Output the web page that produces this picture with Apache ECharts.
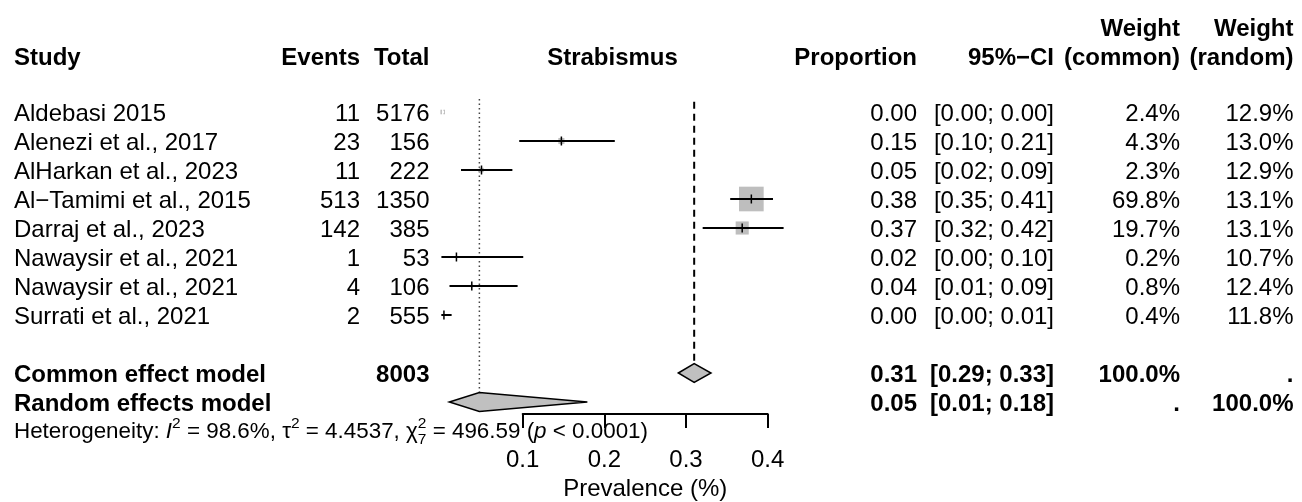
<!DOCTYPE html>
<html>
<head>
<meta charset="utf-8">
<script src="https://cdn.jsdelivr.net/npm/echarts@6/dist/echarts.min.js"></script>
<style>
html, body { margin: 0; background: #fff; }
#chart { width: 1302px; height: 502px; }
</style>
</head>
<body>
<div id="chart"></div>
<script>
// study data
const studies = ['Aldebasi 2015', 'Alenezi et al., 2017', 'AlHarkan et al., 2023', 'Al\u2212Tamimi et al., 2015',
  'Darraj et al., 2023', 'Nawaysir et al., 2021', 'Nawaysir et al., 2021', 'Surrati et al., 2021']
const events = [11, 23, 11, 513, 142, 1, 4, 2]
const totals = [5176, 156, 222, 1350, 385, 53, 106, 555]
const proportion = [0.0021, 0.1474, 0.0496, 0.3800, 0.3688, 0.0189, 0.0377, 0.0036]
const ciLower = [0.0011, 0.0958, 0.0245, 0.3541, 0.3204, 0.0005, 0.0104, 0.0004]
const ciUpper = [0.0038, 0.2128, 0.0874, 0.4065, 0.4195, 0.1007, 0.0938, 0.0130]
const weightCommon = [2.4, 4.3, 2.3, 69.8, 19.7, 0.2, 0.8, 0.4]
const weightRandom = [12.9, 13.0, 12.9, 13.1, 13.1, 10.7, 12.4, 11.8]

// pooled estimates
const commonModel = [0.310, 0.2906, 0.3306]
const randomModel = [0.047, 0.0102, 0.1792]

// heterogeneity
const hetI2 = '98.6%'
const hetTau2 = '4.4537'
const hetChi2 = '496.59'
const hetDf = '7'
const hetP = '< 0.0001'

// axis ticks
const tickMin = 0.1
const tickMax = 0.4
const tickStep = 0.1

const FONT = '"Liberation Sans", Arial, Helvetica, sans-serif'
const rowCommon = studies.length + 1
const rowRandom = studies.length + 2

// columns: right edge of each column (study is left edge)
const col = { study: 14, events: 360, total: 429.5, prop: 917, ci: 1054, wc: 1180, wr: 1293.5 }
const TXT_DY = 2

const fmt2 = v => v.toFixed(2)
const fmtCI = (lo, hi) => '[' + fmt2(lo) + '; ' + fmt2(hi) + ']'

// table rows built from the arrays
const tableRows = studies.map((name, i) => ({
  r: i, bold: false,
  cells: [name, String(events[i]), String(totals[i]), fmt2(proportion[i]), fmtCI(ciLower[i], ciUpper[i]),
    weightCommon[i].toFixed(1) + '%', weightRandom[i].toFixed(1) + '%']
}))
tableRows.push({
  r: rowCommon, bold: true,
  cells: ['Common effect model', '', String(totals.reduce((a, b) => a + b, 0)), fmt2(commonModel[0]),
    fmtCI(commonModel[1], commonModel[2]), '100.0%', '.']
})
tableRows.push({
  r: rowRandom, bold: true,
  cells: ['Random effects model', '', '', fmt2(randomModel[0]), fmtCI(randomModel[1], randomModel[2]), '.', '100.0%']
})

const colX = [col.study, col.events, col.total, col.prop, col.ci, col.wc, col.wr]

const textEl = (x, y, text, opts = {}) => ({
  type: 'text',
  x, y: y + TXT_DY,
  style: {
    text,
    fill: '#000',
    fontSize: opts.size || 24,
    fontFamily: FONT,
    fontWeight: opts.bold ? 'bold' : 'normal',
    fontStyle: opts.italic ? 'italic' : 'normal',
    align: opts.align || 'right',
    verticalAlign: 'middle'
  }
})

// heterogeneity line, pieces laid out with canvas text metrics
const measureCtx = document.createElement('canvas').getContext('2d')
const hetPieces = [
  { t: 'Heterogeneity: ', k: 'n' }, { t: 'I', k: 'it' }, { t: '2', k: 'sup' },
  { t: ' = ' + hetI2 + ', \u03c4', k: 'n' }, { t: '2', k: 'sup' },
  { t: ' = ' + hetTau2 + ', \u03c7', k: 'n' }, { t: '2', k: 'sup', sub: hetDf },
  { t: ' = ' + hetChi2 + ' (', k: 'n' }, { t: 'p', k: 'it' }, { t: ' ' + hetP + ')', k: 'n' }
]
const hetStyle = {
  n: { size: 22.4, italic: false, dy: 0 },
  it: { size: 22.4, italic: true, dy: 0 },
  sup: { size: 15.5, italic: false, dy: -8 }
}
const hetY = 430
const hetElements = []
let hx = 14
hetPieces.forEach(p => {
  const s = hetStyle[p.k]
  measureCtx.font = (s.italic ? 'italic ' : '') + s.size + 'px ' + FONT
  hetElements.push(textEl(hx, hetY + s.dy, p.t, { size: s.size, italic: s.italic, align: 'left' }))
  if (p.sub) hetElements.push(textEl(hx, hetY + 8, p.sub, { size: 15.5, align: 'left' }))
  hx += measureCtx.measureText(p.t).width
})

const chart = echarts.init(document.getElementById('chart'), null, { renderer: 'canvas' })

chart.setOption({
  animation: false,
  backgroundColor: '#fff',
  grid: [
    { left: 441, top: 25, width: 408.35, height: 464 },
    { left: 522.7, top: 300, width: 245, height: 116.7 }
  ],
  xAxis: [
    { gridIndex: 0, type: 'value', min: 0, max: 0.5, show: false },
    {
      gridIndex: 1, type: 'value', min: tickMin, max: tickMax, interval: tickStep,
      position: 'bottom',
      axisLine: { show: true, onZero: false, lineStyle: { color: '#000', width: 2 } },
      axisTick: { show: true, inside: false, length: 14, lineStyle: { color: '#000', width: 2 } },
      axisLabel: { color: '#000', fontSize: 24, fontFamily: FONT, margin: 34, formatter: v => v.toFixed(1) },
      splitLine: { show: false },
      name: 'Prevalence (%)', nameLocation: 'middle', nameGap: 63,
      nameTextStyle: { color: '#000', fontSize: 24, fontFamily: FONT }
    }
  ],
  yAxis: [
    { gridIndex: 0, type: 'value', min: -3, max: 13, inverse: true, show: false },
    { gridIndex: 1, type: 'value', min: 0, max: 1, show: false }
  ],
  graphic: [
    textEl(col.wc, 27, 'Weight', { bold: true }),
    textEl(col.wr, 27, 'Weight', { bold: true }),
    textEl(col.study, 56.7, 'Study', { bold: true, align: 'left' }),
    textEl(col.events, 56.7, 'Events', { bold: true }),
    textEl(col.total, 56.7, 'Total', { bold: true }),
    textEl(612.5, 56.7, 'Strabismus', { bold: true, align: 'center' }),
    textEl(col.prop, 56.7, 'Proportion', { bold: true }),
    textEl(col.ci, 56.7, '95%\u2212CI', { bold: true }),
    textEl(col.wc, 56.7, '(common)', { bold: true }),
    textEl(col.wr, 56.7, '(random)', { bold: true })
  ].concat(hetElements),
  series: [
    // reference lines at pooled estimates
    {
      type: 'custom',
      xAxisIndex: 0, yAxisIndex: 0,
      data: [
        [commonModel[0], -0.35, rowCommon, 0],
        [randomModel[0], -0.45, rowRandom, 1]
      ],
      renderItem: (params, api) => {
        const top = api.coord([api.value(0), api.value(1)])
        const bot = api.coord([api.value(0), api.value(2)])
        const dotted = api.value(3) === 1
        return {
          type: 'line',
          shape: { x1: top[0], y1: top[1], x2: bot[0], y2: bot[1] - 9.5 },
          style: { stroke: dotted ? '#444' : '#000', lineWidth: dotted ? 1.5 : 2, lineDash: dotted ? [1.5, 3] : [7, 5] }
        }
      }
    },
    // study squares and confidence intervals
    {
      type: 'custom',
      xAxisIndex: 0, yAxisIndex: 0,
      data: studies.map((s, i) => [i, proportion[i], ciLower[i], ciUpper[i], weightCommon[i]]),
      renderItem: (params, api) => {
        const row = api.value(0)
        const c = api.coord([api.value(1), row])
        const lo = api.coord([api.value(2), row])
        const hi = api.coord([api.value(3), row])
        const side = 2.95 * Math.sqrt(api.value(4))
        const inside = lo[0] >= c[0] - side / 2 && hi[0] <= c[0] + side / 2
        const ink = inside ? '#fff' : '#000'
        return {
          type: 'group',
          children: [
            { type: 'rect', shape: { x: c[0] - side / 2, y: c[1] - side / 2, width: side, height: side }, style: { fill: '#bebebe' } },
            { type: 'line', shape: { x1: lo[0], y1: c[1], x2: hi[0], y2: c[1] }, style: { stroke: ink, lineWidth: 2 } },
            { type: 'line', shape: { x1: c[0], y1: c[1] - 4.5, x2: c[0], y2: c[1] + 4.5 }, style: { stroke: ink, lineWidth: 1.5 } }
          ]
        }
      }
    },
    // pooled diamonds
    {
      type: 'custom',
      xAxisIndex: 0, yAxisIndex: 0,
      data: [
        [rowCommon, commonModel[0], commonModel[1], commonModel[2]],
        [rowRandom, randomModel[0], randomModel[1], randomModel[2]]
      ],
      renderItem: (params, api) => {
        const row = api.value(0)
        const c = api.coord([api.value(1), row])
        const lo = api.coord([api.value(2), row])
        const hi = api.coord([api.value(3), row])
        return {
          type: 'polygon',
          shape: { points: [[lo[0], c[1]], [c[0], c[1] - 9.5], [hi[0], c[1]], [c[0], c[1] + 9.5]] },
          style: { fill: '#c0c0c0', stroke: '#000', lineWidth: 1.5 }
        }
      }
    },
    // table text
    {
      type: 'custom',
      xAxisIndex: 0, yAxisIndex: 0,
      data: tableRows.map((t, i) => [i, t.r]),
      renderItem: (params, api) => {
        const t = tableRows[api.value(0)]
        const y = api.coord([0, api.value(1)])[1]
        return {
          type: 'group',
          children: t.cells.map((txt, j) => textEl(colX[j], y, txt, { bold: t.bold, align: j === 0 ? 'left' : 'right' }))
        }
      }
    }
  ]
})
</script>
</body>
</html>
